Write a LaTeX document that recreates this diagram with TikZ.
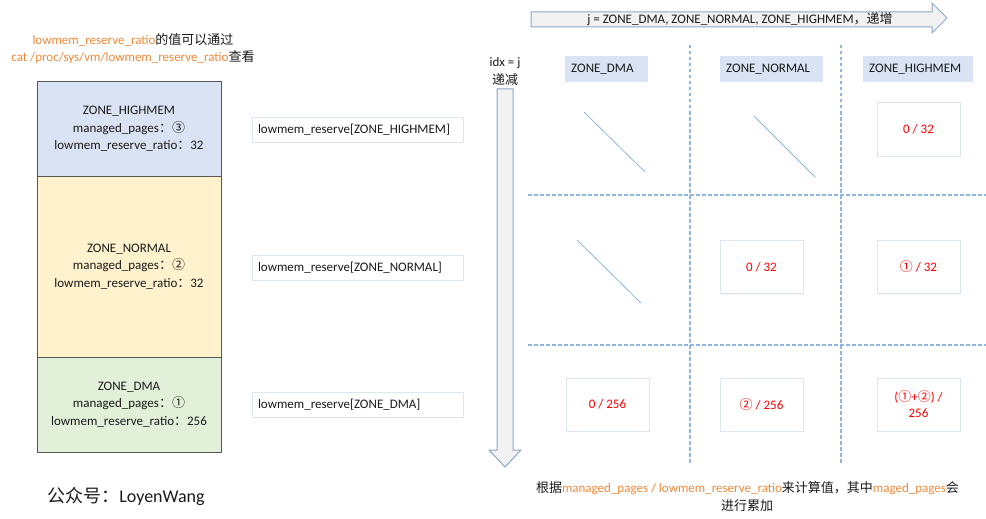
\documentclass[tikz,border=0pt]{standalone}
\usepackage{fontspec}
\setmainfont{Carlito}
\newfontfamily\cjk{Noto Sans CJK SC}
\newcommand{\zh}[1]{{\cjk #1}}
\usetikzlibrary{shadows}
\definecolor{hiblue}{HTML}{DAE3F3}
\definecolor{normy}{HTML}{FFF2CC}
\definecolor{dmag}{HTML}{E2F0D9}
\definecolor{org}{HTML}{F0883A}
\definecolor{gridb}{HTML}{8DB6E0}
\definecolor{arrowb}{HTML}{8FA8C6}
\definecolor{arrowf}{HTML}{F2F2F2}
\definecolor{boxedge}{HTML}{DCE6F2}
\definecolor{zoneedge}{HTML}{555555}
\definecolor{txt}{HTML}{1A1A1A}
\tikzset{
  x=1pt, y=-1pt,
  every node/.style={font=\fontsize{13}{17.5}\selectfont, text=txt},
  zonebox/.style={draw=zoneedge, line width=1pt, minimum width=184pt, align=center, inner sep=0pt},
  reslabel/.style={draw=boxedge, fill=white, line width=1pt, minimum height=25pt, text width=199pt, inner xsep=6pt, inner ysep=0pt, align=left, drop shadow={opacity=0.15, shadow xshift=1pt, shadow yshift=-1pt}},
  colhead/.style={fill=hiblue, minimum height=26pt, inner xsep=6pt, anchor=west, text width=#1, align=left},
  valbox/.style={draw=boxedge, fill=white, line width=1pt, minimum width=83pt, minimum height=53pt, align=center, text=red, inner sep=0pt, drop shadow={opacity=0.12, shadow xshift=1pt, shadow yshift=-1pt}},
  gridline/.style={draw=gridb, line width=1.2pt, dash pattern=on 3.5pt off 2.5pt},
  diag/.style={draw=gridb, line width=0.8pt},
  bigarrow/.style={draw=arrowb, fill=arrowf, line width=1pt},
}
\begin{document}
\begin{tikzpicture}
\useasboundingbox (0,0) rectangle (986,519);

% top-left notes
\node (note1) at (133,40) {\textcolor{org}{lowmem\_reserve\_ratio}\zh{的值可以通过}};
\node (note2) at (133,57) {\textcolor{org}{cat /proc/sys/vm/lowmem\_reserve\_ratio}\zh{查看}};

% zone stack
\node[zonebox, fill=hiblue, minimum height=94pt] (hi) at (129,129)
  {ZONE\_HIGHMEM\\managed\_pages\zh{：③}\\lowmem\_reserve\_ratio\zh{：}32};
\node[zonebox, fill=normy, minimum height=181pt] (no) at (129,266.5)
  {ZONE\_NORMAL\\managed\_pages\zh{：②}\\lowmem\_reserve\_ratio\zh{：}32};
\node[zonebox, fill=dmag, minimum height=95pt] (dm) at (129,404.5)
  {ZONE\_DMA\\managed\_pages\zh{：①}\\lowmem\_reserve\_ratio\zh{：}256};

% lowmem_reserve labels
\node[reslabel] (rhi) at (357.5,129.5) {lowmem\_reserve[ZONE\_HIGHMEM]};
\node[reslabel] (rno) at (357.5,267.5) {lowmem\_reserve[ZONE\_NORMAL]};
\node[reslabel] (rdm) at (357.5,404.5) {lowmem\_reserve[ZONE\_DMA]};

\node (wx) at (126,496) {\fontsize{18}{20}\selectfont\zh{公众号：}LoyenWang};

% top arrow
\draw[bigarrow] (531,12) -- (932,12) -- (932,3) -- (947,18) -- (932,33) -- (932,27) -- (531,27) -- cycle;
\node (jlab) at (740,19.5) {j = ZONE\_DMA, ZONE\_NORMAL, ZONE\_HIGHMEM\zh{，递增}};

% down arrow
\draw[bigarrow] (497,89) -- (513,89) -- (513,450) -- (521,450) -- (505,467) -- (489,450) -- (497,450) -- cycle;
\node (idx) at (505,63) {idx = j};
\node (dec) at (505,80) {\zh{递减}};

% grid
\coordinate (v1t) at (690,45); \coordinate (v1b) at (690,463);
\coordinate (v2t) at (841,45); \coordinate (v2b) at (841,463);
\coordinate (h1l) at (528,195); \coordinate (h1r) at (986,195);
\coordinate (h2l) at (528,345); \coordinate (h2r) at (986,345);
\draw[gridline] (v1t) -- (v1b);
\draw[gridline] (v2t) -- (v2b);
\draw[gridline] (h1l) -- (h1r);
\draw[gridline] (h2l) -- (h2r);

% column headers
\node[colhead=71pt] (cdma) at (565,69) {ZONE\_DMA};
\node[colhead=91pt] (cnor) at (720,69) {ZONE\_NORMAL};
\node[colhead=98pt] (chig) at (863,69) {ZONE\_HIGHMEM};

% diagonals
\coordinate (d1a) at (584,112); \coordinate (d1b) at (645,172);
\coordinate (d2a) at (754,116); \coordinate (d2b) at (815,177);
\coordinate (d3a) at (577,240); \coordinate (d3b) at (641,303);
\draw[diag] (d1a) -- (d1b);
\draw[diag] (d2a) -- (d2b);
\draw[diag] (d3a) -- (d3b);

% values
\node[valbox] (v13) at (918.5,129.5) {0 / 32};
\node[valbox] (v22) at (761.5,267) {0 / 32};
\node[valbox] (v23) at (918.5,267) {\zh{①} / 32};
\node[valbox] (v31) at (607.5,404.5) {0 / 256};
\node[valbox] (v32) at (761.5,404.5) {\zh{②} / 256};
\node[valbox, font=\fontsize{13}{16}\selectfont] (v33) at (918.5,404.5) {(\zh{①}+\zh{②}) /\\256};

% bottom note
\node (b1) at (747.5,488) {\zh{根据}\textcolor{org}{managed\_pages / lowmem\_reserve\_ratio}\zh{来计算值，其中}\textcolor{org}{maged\_pages}\zh{会}};
\node (b2) at (747,506) {\zh{进行累加}};
\end{tikzpicture}
\end{document}
